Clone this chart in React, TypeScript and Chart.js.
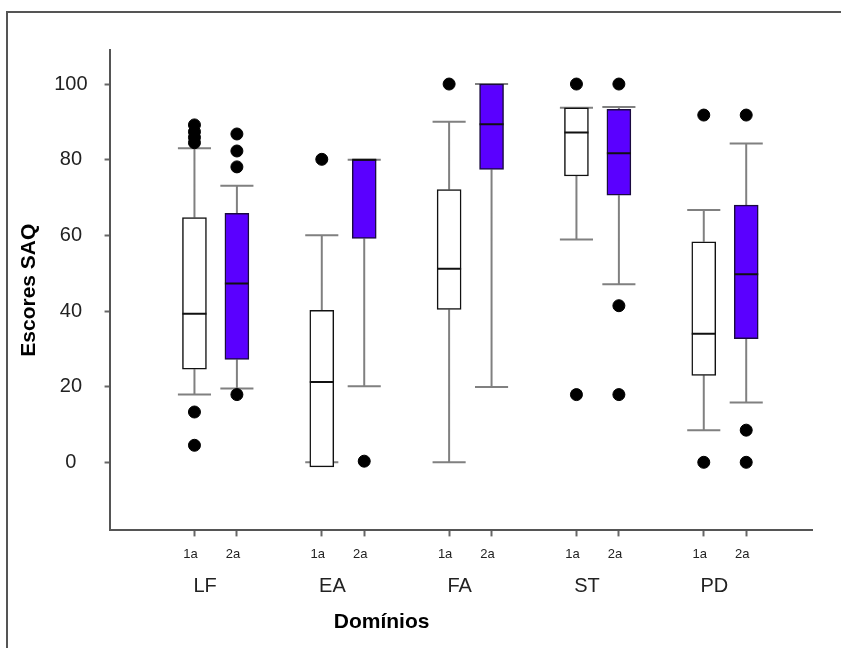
import React, { useEffect, useRef } from 'react';
import { Chart, registerables } from 'chart.js';

Chart.register(...registerables);

// ---- data ----
const domains = ['LF', 'EA', 'FA', 'ST', 'PD'];
const waveLabels = ['1a', '2a'];
const yTicks = [0, 20, 40, 60, 80, 100];
const yAxisTitle = 'Escores SAQ';
const xAxisTitle = 'Domínios';

// 1a (first survey)
const min1 = [17.9, 0, 0, 58.9, 8.5];
const q1First = [24.6, -1.2, 40.4, 75.7, 23.0];
const med1 = [39.3, 21.2, 51.2, 87.2, 34.0];
const q3First = [64.7, 40.2, 72.1, 93.7, 58.3];
const max1 = [83.0, 60.0, 90.0, 93.7, 66.7];
const out1 = [[89.2, 87.4, 85.9, 84.5, 13.3, 4.5], [80.1], [100], [100, 17.9], [91.8, 0]];

// 2a (second survey)
const min2 = [19.5, 20.1, 19.9, 47.1, 15.8];
const q1Second = [27.2, 59.2, 77.4, 70.6, 32.7];
const med2 = [47.3, 80.0, 89.4, 81.7, 49.7];
const q3Second = [65.8, 80.0, 100, 93.3, 68.0];
const max2 = [73.1, 80.0, 100, 93.9, 84.3];
const out2 = [[86.8, 82.3, 78.1, 17.9], [0.3], [], [100, 41.4, 17.9], [91.8, 8.5, 0]];

const waves = [
  { min: min1, q1: q1First, med: med1, q3: q3First, max: max1, out: out1 },
  { min: min2, q1: q1Second, med: med2, q3: q3Second, max: max2, out: out2 },
];

// ---- layout helpers (positions on the linear x scale) ----
const slot = (g: number, w: number) => 3 * g + 1 + w;
const BOX_HALF = 0.283;
const CAP_HALF = 0.39;
const TITLE_POS = 5.41;

const FONT = '"Liberation Sans", Arial, sans-serif';
const PURPLE = '#5a00ff';
const WHISKER = '#808080';

function buildData() {
  const whiskers: any[] = [];
  const medians: any[] = [];
  const outliers: any[] = [];
  const boxes: any[][] = [[], []];
  waves.forEach((s, w) => {
    domains.forEach((_, g) => {
      const x = slot(g, w);
      const gap = { x, y: null };
      whiskers.push(
        { x, y: s.q3[g] }, { x, y: s.max[g] }, gap,
        { x: x - CAP_HALF, y: s.max[g] }, { x: x + CAP_HALF, y: s.max[g] }, gap,
        { x, y: s.q1[g] }, { x, y: s.min[g] }, gap,
        { x: x - CAP_HALF, y: s.min[g] }, { x: x + CAP_HALF, y: s.min[g] }, gap,
      );
      medians.push({ x: x - BOX_HALF, y: s.med[g] }, { x: x + BOX_HALF, y: s.med[g] }, gap);
      boxes[w].push({ x, y: [s.q1[g], s.q3[g]] });
      s.out[g].forEach((v) => outliers.push({ x, y: v }));
    });
  });
  return { whiskers, medians, outliers, boxes };
}

const xTitlePlugin = {
  id: 'xTitle',
  afterDraw(chart: any) {
    const { ctx } = chart;
    const xs = chart.scales.x;
    const x2 = chart.scales.x2;
    ctx.save();
    ctx.font = `bold 21px ${FONT}`;
    ctx.fillStyle = '#000';
    ctx.textAlign = 'center';
    ctx.textBaseline = 'middle';
    ctx.fillText(xAxisTitle, xs.getPixelForValue(TITLE_POS), x2.bottom + 22);
    ctx.restore();
  },
};

export default function App() {
  const ref = useRef<HTMLCanvasElement | null>(null);

  useEffect(() => {
    document.body.style.margin = '0';
    const canvas = ref.current;
    if (!canvas) return;
    const { whiskers, medians, outliers, boxes } = buildData();
    const chart = new Chart(canvas, {
      type: 'bar',
      data: {
        datasets: [
          {
            type: 'line',
            label: 'whiskers',
            data: whiskers,
            borderColor: WHISKER,
            borderWidth: 2,
            pointRadius: 0,
            spanGaps: false,
            order: 4,
          } as any,
          {
            type: 'bar',
            label: waveLabels[0],
            data: boxes[0],
            backgroundColor: '#ffffff',
            borderColor: '#111111',
            borderWidth: 1.5,
            borderSkipped: false,
            barThickness: 24,
            grouped: false,
            order: 3,
          } as any,
          {
            type: 'bar',
            label: waveLabels[1],
            data: boxes[1],
            backgroundColor: PURPLE,
            borderColor: '#1a0a40',
            borderWidth: 1.5,
            borderSkipped: false,
            barThickness: 24,
            grouped: false,
            order: 2,
          } as any,
          {
            type: 'line',
            label: 'medians',
            data: medians,
            borderColor: '#111111',
            borderWidth: 2,
            pointRadius: 0,
            spanGaps: false,
            order: 1,
          } as any,
          {
            type: 'scatter',
            label: 'outliers',
            data: outliers,
            backgroundColor: '#000000',
            borderColor: '#000000',
            pointRadius: 6,
            showLine: false,
            order: 0,
          } as any,
        ],
      },
      options: {
        responsive: false,
        animation: false,
        layout: { padding: { left: 8, top: 50, right: 29, bottom: 48 } },
        plugins: { legend: { display: false }, tooltip: { enabled: false } },
        scales: {
          x: {
            type: 'linear',
            min: -1,
            max: 15.55,
            offset: false,
            weight: 0,
            afterBuildTicks: (scale: any) => {
              const t: any[] = [];
              domains.forEach((_, g) => waveLabels.forEach((__, w) => t.push({ value: slot(g, w) })));
              scale.ticks = t;
            },
            grid: { offset: false, drawOnChartArea: false, drawTicks: true, tickLength: 6, tickColor: '#666', tickWidth: 2 },
            border: { display: true, color: '#555', width: 2 },
            ticks: {
              autoSkip: false,
              maxRotation: 0,
              padding: 10,
              labelOffset: -4,
              color: '#222',
              font: { family: FONT, size: 13 },
              callback: (v: any) => waveLabels[(Math.round(Number(v)) - 1) % 3] ?? '',
            },
          },
          x2: {
            type: 'linear',
            position: 'bottom',
            min: -1,
            max: 15.55,
            offset: false,
            weight: 1,
            afterBuildTicks: (scale: any) => {
              scale.ticks = domains.map((_, g) => ({ value: 3 * g + 1.25 }));
            },
            grid: { display: false, offset: false, drawTicks: false, drawOnChartArea: false },
            border: { display: false },
            ticks: {
              autoSkip: false,
              maxRotation: 0,
              padding: 2,
              color: '#222',
              font: { family: FONT, size: 20 },
              callback: (v: any) => domains[Math.round((Number(v) - 1.25) / 3)] ?? '',
            },
          },
          y: {
            type: 'linear',
            min: -18,
            max: 109,
            afterBuildTicks: (scale: any) => {
              scale.ticks = yTicks.map((v) => ({ value: v }));
            },
            grid: { drawOnChartArea: false, drawTicks: true, tickLength: 5, tickColor: '#666', tickWidth: 2 },
            border: { display: true, color: '#555', width: 2 },
            ticks: {
              padding: 17,
              crossAlign: 'center',
              color: '#222',
              font: { family: FONT, size: 20 },
            },
            title: {
              display: true,
              text: yAxisTitle,
              color: '#000',
              font: { family: FONT, size: 21, weight: 'bold' },
              padding: { top: 9, bottom: -5 },
            },
          },
        },
      } as any,
      plugins: [xTitlePlugin],
    });
    return () => chart.destroy();
  }, []);

  return (
    <div style={{ position: 'relative', width: 841, height: 648, overflow: 'hidden', background: '#fff' }}>
      <div
        style={{
          position: 'absolute',
          left: 6,
          top: 11,
          width: 900,
          height: 700,
          borderLeft: '2px solid #555',
          borderTop: '2px solid #555',
        }}
      />
      <canvas ref={ref} width={841} height={648} style={{ position: 'absolute', left: 0, top: 0 }} />
    </div>
  );
}
